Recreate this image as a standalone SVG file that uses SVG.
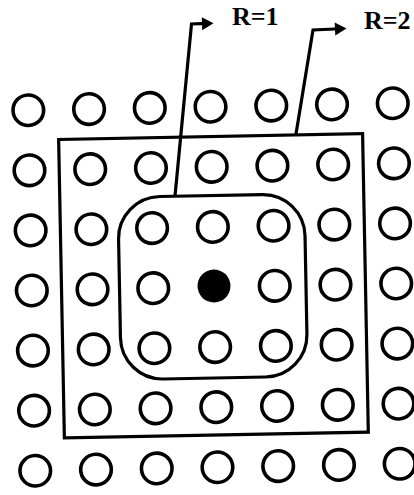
<svg xmlns="http://www.w3.org/2000/svg" width="414" height="495" viewBox="0 0 414 495">
  <style>
    .c { fill: #ffffff; stroke: #000000; stroke-width: 3.6; }
    .center { fill: #000000; stroke: none; }
    .frame { fill: none; stroke: #000000; stroke-width: 3.2; }
    .conn { fill: none; stroke: #000000; stroke-width: 3.2; stroke-linejoin: miter; }
    .lbl { font-family: "Liberation Serif", "Times New Roman", serif; font-weight: bold; font-size: 26px; fill: #000000; }
  </style>
  <defs>
    <marker id="ah" markerUnits="userSpaceOnUse" markerWidth="12" markerHeight="14" refX="0" refY="6.5" orient="auto" overflow="visible">
      <path d="M0,0 L11.5,6.5 L0,13 Z" fill="#000000"/>
    </marker>
  </defs>
  <rect width="414" height="495" fill="#ffffff"/>
  <g transform="rotate(-1.1 214 287)">
    <g id="region-r2"><rect class="frame" x="61.5" y="136.5" width="304" height="298.5"/></g>
    <g id="region-r1"><rect class="frame" x="119.5" y="195.5" width="186.5" height="182.5" rx="42" ry="42"/></g>
    <g id="grid">
      <g id="p00"><circle class="c" cx="31.75" cy="106.7" r="15.3"/></g>
      <g id="p01"><circle class="c" cx="92.5" cy="106.7" r="15.3"/></g>
      <g id="p02"><circle class="c" cx="153.25" cy="106.7" r="15.3"/></g>
      <g id="p03"><circle class="c" cx="214" cy="106.7" r="15.3"/></g>
      <g id="p04"><circle class="c" cx="274.75" cy="106.7" r="15.3"/></g>
      <g id="p05"><circle class="c" cx="335.5" cy="106.7" r="15.3"/></g>
      <g id="p06"><circle class="c" cx="396.25" cy="106.7" r="15.3"/></g>

      <g id="p10"><circle class="c" cx="31.75" cy="166.8" r="15.3"/></g>
      <g id="p11"><circle class="c" cx="92.5" cy="166.8" r="15.3"/></g>
      <g id="p12"><circle class="c" cx="153.25" cy="166.8" r="15.3"/></g>
      <g id="p13"><circle class="c" cx="214" cy="166.8" r="15.3"/></g>
      <g id="p14"><circle class="c" cx="274.75" cy="166.8" r="15.3"/></g>
      <g id="p15"><circle class="c" cx="335.5" cy="166.8" r="15.3"/></g>
      <g id="p16"><circle class="c" cx="396.25" cy="166.8" r="15.3"/></g>

      <g id="p20"><circle class="c" cx="31.75" cy="226.9" r="15.3"/></g>
      <g id="p21"><circle class="c" cx="92.5" cy="226.9" r="15.3"/></g>
      <g id="p22"><circle class="c" cx="153.25" cy="226.9" r="15.3"/></g>
      <g id="p23"><circle class="c" cx="214" cy="226.9" r="15.3"/></g>
      <g id="p24"><circle class="c" cx="274.75" cy="226.9" r="15.3"/></g>
      <g id="p25"><circle class="c" cx="335.5" cy="226.9" r="15.3"/></g>
      <g id="p26"><circle class="c" cx="396.25" cy="226.9" r="15.3"/></g>

      <g id="p30"><circle class="c" cx="31.75" cy="287" r="15.3"/></g>
      <g id="p31"><circle class="c" cx="92.5" cy="287" r="15.3"/></g>
      <g id="p32"><circle class="c" cx="153.25" cy="287" r="15.3"/></g>
      <g id="p33"><circle class="center" cx="214" cy="286" r="16.5"/></g>
      <g id="p34"><circle class="c" cx="274.75" cy="287" r="15.3"/></g>
      <g id="p35"><circle class="c" cx="335.5" cy="287" r="15.3"/></g>
      <g id="p36"><circle class="c" cx="396.25" cy="287" r="15.3"/></g>

      <g id="p40"><circle class="c" cx="31.75" cy="347.1" r="15.3"/></g>
      <g id="p41"><circle class="c" cx="92.5" cy="347.1" r="15.3"/></g>
      <g id="p42"><circle class="c" cx="153.25" cy="347.1" r="15.3"/></g>
      <g id="p43"><circle class="c" cx="214" cy="347.1" r="15.3"/></g>
      <g id="p44"><circle class="c" cx="274.75" cy="347.1" r="15.3"/></g>
      <g id="p45"><circle class="c" cx="335.5" cy="347.1" r="15.3"/></g>
      <g id="p46"><circle class="c" cx="396.25" cy="347.1" r="15.3"/></g>

      <g id="p50"><circle class="c" cx="31.75" cy="407.2" r="15.3"/></g>
      <g id="p51"><circle class="c" cx="92.5" cy="407.2" r="15.3"/></g>
      <g id="p52"><circle class="c" cx="153.25" cy="407.2" r="15.3"/></g>
      <g id="p53"><circle class="c" cx="214" cy="407.2" r="15.3"/></g>
      <g id="p54"><circle class="c" cx="274.75" cy="407.2" r="15.3"/></g>
      <g id="p55"><circle class="c" cx="335.5" cy="407.2" r="15.3"/></g>
      <g id="p56"><circle class="c" cx="396.25" cy="407.2" r="15.3"/></g>

      <g id="p60"><circle class="c" cx="31.75" cy="467.3" r="15.3"/></g>
      <g id="p61"><circle class="c" cx="92.5" cy="467.3" r="15.3"/></g>
      <g id="p62"><circle class="c" cx="153.25" cy="467.3" r="15.3"/></g>
      <g id="p63"><circle class="c" cx="214" cy="467.3" r="15.3"/></g>
      <g id="p64"><circle class="c" cx="274.75" cy="467.3" r="15.3"/></g>
      <g id="p65"><circle class="c" cx="335.5" cy="467.3" r="15.3"/></g>
      <g id="p66"><circle class="c" cx="396.25" cy="467.3" r="15.3"/></g>
    </g>
  </g>
  <g id="connectors">
    <polyline class="conn" points="175,196 191.5,24 202,23.7" marker-end="url(#ah)"/>
    <polyline class="conn" points="296,134 313,30 335,29" marker-end="url(#ah)"/>
  </g>
  <g id="label-r1"><text class="lbl" x="232" y="24.5">R=1</text></g>
  <g id="label-r2"><text class="lbl" x="364" y="28.5">R=2</text></g>
</svg>
